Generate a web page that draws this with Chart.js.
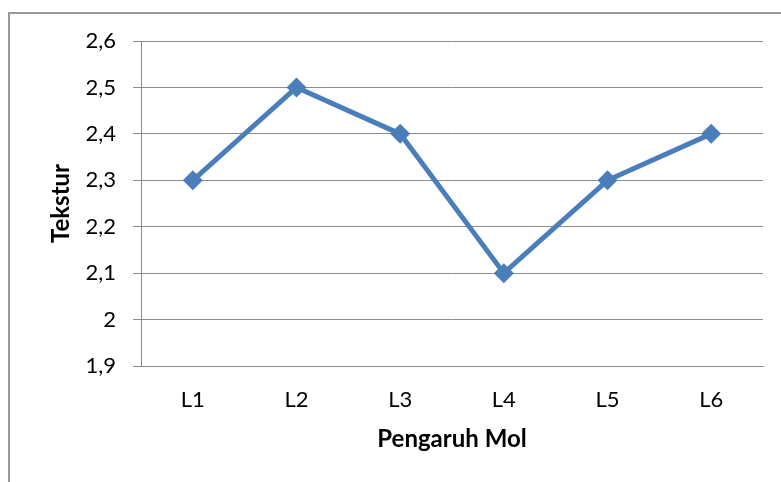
<!DOCTYPE html>
<html lang="id">
<head>
    <meta charset="utf-8">
    <title>Tekstur - Pengaruh Mol</title>
    <script src="https://cdn.jsdelivr.net/npm/chart.js@4.4.1/dist/chart.umd.min.js"></script>
    <style>
        html, body {
            margin: 0;
            padding: 0;
            background: #ffffff;
            overflow: hidden;
        }
        #wrap {
            position: relative;
            width: 781px;
            height: 482px;
        }
        #frame {
            position: absolute;
            left: 8px;
            top: 12px;
            width: 800px;
            height: 500px;
            border: 2px solid #9a9a9a;
            box-sizing: border-box;
        }
        #chart {
            position: absolute;
            left: 0;
            top: 0;
        }
    </style>
</head>
<body>
    <div id="wrap">
        <div id="frame"></div>
        <canvas id="chart" width="781" height="482"></canvas>
    </div>
    <script>
        const categories = ['L1', 'L2', 'L3', 'L4', 'L5', 'L6'];
        const tekstur = [2.3, 2.5, 2.4, 2.1, 2.3, 2.4];
        const yTicks = [1.9, 2.0, 2.1, 2.2, 2.3, 2.4, 2.5, 2.6];

        const blue = '#4A7EBB';
        const gridGray = '#8c8c8c';
        const fontFamily = 'Lato, "Open Sans", sans-serif';

        function formatTick(value) {
            // comma decimal, "2" without decimals like the original
            const v = Math.round(value * 10) / 10;
            return Number.isInteger(v) ? String(v) : v.toFixed(1).replace('.', ',');
        }

        const ctx = document.getElementById('chart').getContext('2d');
        new Chart(ctx, {
            type: 'line',
            data: {
                labels: categories,
                datasets: [{
                    data: tekstur,
                    borderColor: blue,
                    backgroundColor: blue,
                    borderWidth: 5,
                    pointStyle: 'rectRot',
                    pointRadius: 10,
                    pointHoverRadius: 10,
                    pointBackgroundColor: blue,
                    pointBorderColor: blue,
                    pointBorderWidth: 0,
                    tension: 0,
                    fill: false
                }]
            },
            options: {
                responsive: false,
                animation: false,
                devicePixelRatio: 1,
                plugins: {
                    legend: { display: false },
                    tooltip: { enabled: false }
                },
                layout: {
                    padding: { top: 41, right: 18, bottom: 20, left: 47 }
                },
                scales: {
                    x: {
                        type: 'category',
                        offset: true,
                        grid: { display: false, drawTicks: false },
                        border: { display: true, color: gridGray, width: 1 },
                        ticks: {
                            color: '#000000',
                            padding: 21,
                            font: { family: fontFamily, size: 22 }
                        },
                        title: {
                            display: true,
                            text: 'Pengaruh Mol',
                            color: '#000000',
                            padding: { top: 4, bottom: 8 },
                            font: { family: fontFamily, size: 24, weight: 'bold' }
                        },
                        afterFit: function(scale) {
                            scale.height = 482 - 366 - 20;
                        }
                    },
                    y: {
                        min: 1.9,
                        max: 2.6,
                        afterBuildTicks: function(scale) {
                            scale.ticks = yTicks.map(v => ({ value: v }));
                        },
                        grid: {
                            color: gridGray,
                            lineWidth: 1,
                            drawTicks: true,
                            tickLength: 8
                        },
                        border: { display: true, color: gridGray, width: 1 },
                        ticks: {
                            color: '#000000',
                            padding: 17,
                            font: { family: fontFamily, size: 22 },
                            callback: function(value) { return formatTick(value); }
                        },
                        title: {
                            display: true,
                            text: 'Tekstur',
                            color: '#000000',
                            padding: 0,
                            font: { family: fontFamily, size: 24, weight: 'bold' }
                        },
                        afterFit: function(scale) {
                            scale.width = 141 - 47;
                        }
                    }
                }
            }
        });
    </script>
</body>
</html>
